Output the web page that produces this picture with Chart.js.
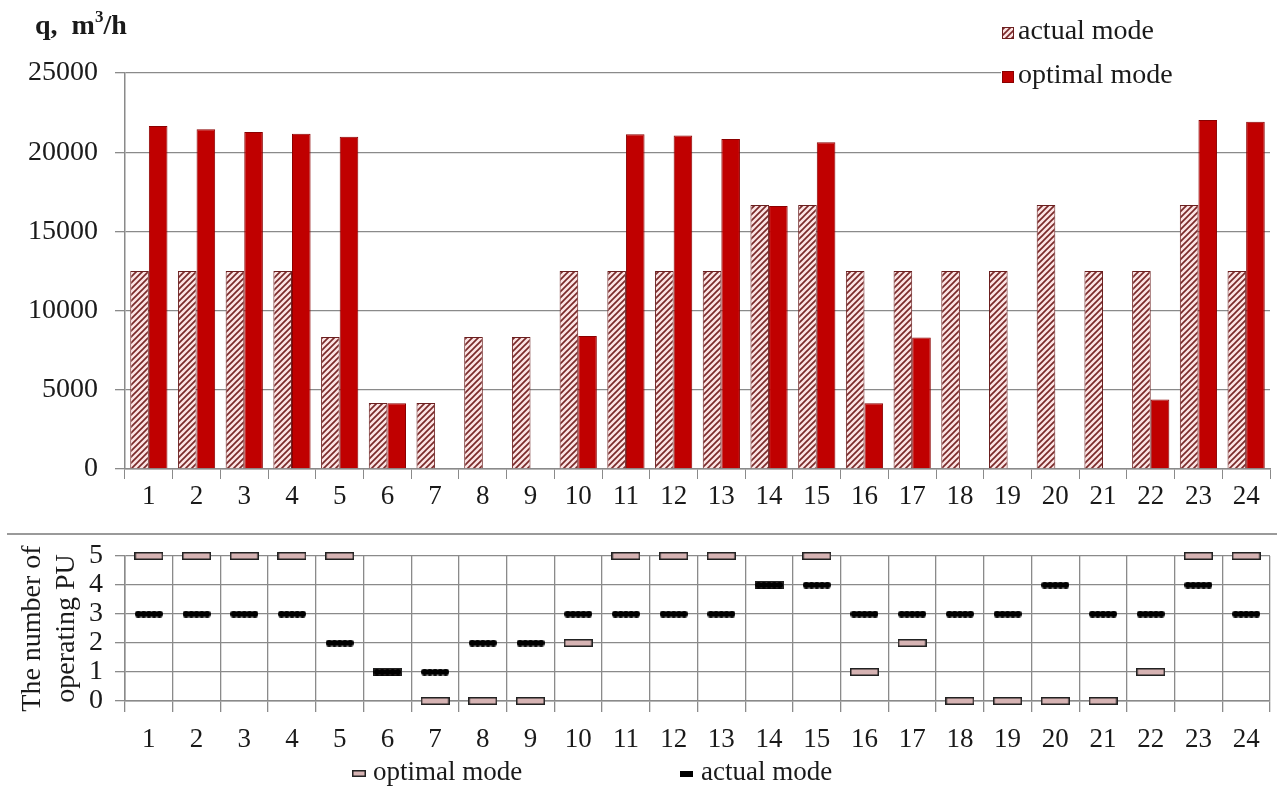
<!DOCTYPE html>
<html>
<head>
<meta charset="utf-8">
<script src="https://cdn.jsdelivr.net/npm/chart.js@4/dist/chart.umd.min.js"></script>
<style>
  body { margin: 0; background: #fff; }
  #top { position: absolute; left: 0; top: 0; width: 1277px; height: 520px; }
  #bottom { position: absolute; left: 0; top: 520px; width: 1277px; height: 267px; }
</style>
</head>
<body>
<div id="top"><canvas id="flowChart"></canvas></div>
<div id="bottom"><canvas id="puChart"></canvas></div>
<script>
// Hours of the day
const hours = ['1','2','3','4','5','6','7','8','9','10','11','12','13','14','15','16','17','18','19','20','21','22','23','24'];

// Flow q, m3/h
const flowActual = [12500, 12500, 12500, 12500, 8333, 4167, 4167, 8333, 8333, 12500, 12500, 12500,
                    12500, 16667, 16667, 12500, 12500, 12500, 12500, 16667, 12500, 12500, 16667, 12500];
const flowOptimal = [21660, 21450, 21280, 21160, 20970, 4150, 0, 0, 0, 8400, 21140, 21050,
                     20840, 16600, 20630, 4150, 8300, 0, 0, 0, 0, 4380, 22040, 21930];

// Number of operating pump units
const puActual = [3, 3, 3, 3, 2, 1, 1, 2, 2, 3, 3, 3, 3, 4, 4, 3, 3, 3, 3, 4, 3, 3, 4, 3];
const puOptimal = [5, 5, 5, 5, 5, 1, 0, 0, 0, 2, 5, 5, 5, 4, 5, 1, 2, 0, 0, 0, 0, 1, 5, 5];

const flowTicks = [0, 5000, 10000, 15000, 20000, 25000];
const puTicks = [0, 1, 2, 3, 4, 5];

const SERIF = '"Liberation Serif", "Times New Roman", serif';
const TEXT = '#1a1a1a';
const GRID = '#8a8a8a';
const RED = '#c00000';
const PINK = '#d6b3b3';

// hatched fill for the actual mode bars
function hatch() {
    const c = document.createElement('canvas');
    c.width = 6; c.height = 6;
    const g = c.getContext('2d');
    g.fillStyle = '#fbe4e4';
    g.fillRect(0, 0, 6, 6);
    g.strokeStyle = '#7a2a2a';
    g.lineWidth = 1.7;
    g.beginPath();
    g.moveTo(0, 6); g.lineTo(6, 0);
    g.moveTo(-1, 1); g.lineTo(1, -1);
    g.moveTo(5, 7); g.lineTo(7, 5);
    g.stroke();
    return g.createPattern(c, 'repeat');
}
const hatchFill = hatch();

// dash markers for the lower chart
function optimalMark(w, h) {
    const c = document.createElement('canvas');
    c.width = w; c.height = h;
    const g = c.getContext('2d');
    g.fillStyle = PINK;
    g.fillRect(0, 0, w, h);
    g.strokeStyle = '#222';
    g.lineWidth = 1.5;
    g.strokeRect(0.75, 0.75, w - 1.5, h - 1.5);
    return c;
}
function actualMark(w, h) {
    const c = document.createElement('canvas');
    c.width = w; c.height = h;
    const g = c.getContext('2d');
    g.fillStyle = '#000';
    g.fillRect(2, h / 2 - 2, w - 4, 4);
    const n = Math.round(w / 6);
    for (let i = 0; i < n; i++) {
        g.beginPath();
        g.arc(h / 2 + i * (w - h) / (n - 1), h / 2, h / 2, 0, Math.PI * 2);
        g.fill();
    }
    return c;
}
function legendDash(w, h) {
    const c = document.createElement('canvas');
    c.width = w; c.height = h;
    const g = c.getContext('2d');
    g.fillStyle = '#000';
    g.fillRect(0, 0, w, h);
    return c;
}

const fixWidth = w => function (scale) { scale.width = w; };
const fixHeight = h => function (scale) { scale.height = h; };

// legend + axis title for the upper chart
const flowDecor = {
    id: 'flowDecor',
    afterDraw(chart) {
        const ctx = chart.ctx;
        ctx.save();
        ctx.fillStyle = '#fff';
        ctx.fillRect(1001, 10, 276, 90);
        ctx.fillStyle = hatchFill;
        ctx.fillRect(1002, 27, 12, 12);
        ctx.strokeStyle = '#6b1f1f';
        ctx.lineWidth = 1;
        ctx.strokeRect(1002.5, 27.5, 11, 11);
        ctx.fillStyle = RED;
        ctx.fillRect(1002, 71, 12, 12);
        ctx.strokeStyle = '#8b0000';
        ctx.strokeRect(1002.5, 71.5, 11, 11);
        ctx.fillStyle = TEXT;
        ctx.font = '28px ' + SERIF;
        ctx.textBaseline = 'middle';
        ctx.fillText('actual mode', 1018, 32);
        ctx.fillText('optimal mode', 1018, 76);
        ctx.textBaseline = 'alphabetic';
        ctx.font = 'bold 28px ' + SERIF;
        ctx.fillText('q,  m', 35, 34);
        let x = 35 + ctx.measureText('q,  m').width;
        ctx.font = 'bold 17px ' + SERIF;
        ctx.fillText('3', x, 22);
        x += ctx.measureText('3').width;
        ctx.font = 'bold 28px ' + SERIF;
        ctx.fillText('/h', x, 34);
        ctx.restore();
    }
};

// separator and legend for the lower chart
const optLegend = optimalMark(14, 7);
const actLegend = legendDash(13, 6);
const puDecor = {
    id: 'puDecor',
    beforeDraw(chart) {
        const ctx = chart.ctx;
        ctx.save();
        ctx.strokeStyle = '#9a9a9a';
        ctx.lineWidth = 2;
        ctx.beginPath();
        ctx.moveTo(7, 14);
        ctx.lineTo(1277, 14);
        ctx.stroke();
        ctx.restore();
    },
    afterDraw(chart) {
        const ctx = chart.ctx;
        ctx.save();
        ctx.drawImage(optLegend, 352, 250);
        ctx.drawImage(actLegend, 680, 251);
        ctx.fillStyle = TEXT;
        ctx.font = '27px ' + SERIF;
        ctx.textBaseline = 'middle';
        ctx.fillText('optimal mode', 373, 253);
        ctx.fillText('actual mode', 701, 253);
        ctx.restore();
    }
};

// Upper chart: flow
new Chart(document.getElementById('flowChart').getContext('2d'), {
    type: 'bar',
    data: {
        labels: hours,
        datasets: [{
            label: 'actual mode',
            data: flowActual,
            backgroundColor: hatchFill,
            borderColor: '#6b1f1f',
            borderWidth: 1,
            categoryPercentage: 0.78,
            barPercentage: 1.0
        }, {
            label: 'optimal mode',
            data: flowOptimal,
            backgroundColor: RED,
            borderColor: '#8b0000',
            borderWidth: 1,
            categoryPercentage: 0.78,
            barPercentage: 1.0
        }]
    },
    options: {
        responsive: true,
        maintainAspectRatio: false,
        animation: false,
        layout: { padding: { top: 73, right: 7, left: 0, bottom: 0 } },
        plugins: { legend: { display: false }, tooltip: { enabled: false } },
        scales: {
            x: {
                afterFit: fixHeight(51),
                grid: { offset: true, drawOnChartArea: false, color: GRID, tickLength: 10 },
                border: { color: GRID, width: 1.5 },
                ticks: { color: TEXT, font: { family: SERIF, size: 27 }, padding: 2, maxRotation: 0 }
            },
            y: {
                min: 0,
                max: 25000,
                afterFit: fixWidth(125),
                afterBuildTicks: scale => { scale.ticks = flowTicks.map(v => ({ value: v })); },
                grid: { color: GRID, lineWidth: 1.3, tickLength: 10 },
                border: { color: GRID, width: 1.5 },
                ticks: {
                    color: TEXT, font: { family: SERIF, size: 28 }, padding: 17,
                    autoSkip: false, callback: v => String(v)
                }
            }
        }
    },
    plugins: [flowDecor]
});

// Lower chart: number of operating pump units
new Chart(document.getElementById('puChart').getContext('2d'), {
    type: 'line',
    data: {
        labels: hours,
        datasets: [{
            label: 'optimal mode',
            data: puOptimal,
            showLine: false,
            pointStyle: optimalMark(29, 8),
            order: 2,
            clip: false
        }, {
            label: 'actual mode',
            data: puActual,
            showLine: false,
            pointStyle: actualMark(28, 7),
            order: 1,
            clip: false
        }]
    },
    options: {
        responsive: true,
        maintainAspectRatio: false,
        animation: false,
        layout: { padding: { top: 36, right: 7, left: 0, bottom: 0 } },
        plugins: { legend: { display: false }, tooltip: { enabled: false } },
        scales: {
            x: {
                offset: true,
                afterFit: fixHeight(86),
                grid: { offset: true, color: GRID, lineWidth: 1.3, tickLength: 11 },
                border: { color: GRID, width: 1.5 },
                ticks: { color: TEXT, font: { family: SERIF, size: 27 }, padding: 12, maxRotation: 0 }
            },
            y: {
                min: 0,
                max: 5,
                afterFit: fixWidth(125),
                afterBuildTicks: scale => { scale.ticks = puTicks.map(v => ({ value: v })); },
                grid: { color: GRID, lineWidth: 1.3, tickLength: 10 },
                border: { color: GRID, width: 1.5 },
                ticks: {
                    color: TEXT, font: { family: SERIF, size: 28 }, padding: 12,
                    autoSkip: false, callback: v => String(v)
                },
                title: {
                    display: true,
                    text: ['The number of', 'operating PU'],
                    color: TEXT,
                    font: { family: SERIF, size: 28, lineHeight: 1.2 },
                    padding: { top: 16, bottom: 0 }
                }
            }
        }
    },
    plugins: [puDecor]
});
</script>
</body>
</html>
